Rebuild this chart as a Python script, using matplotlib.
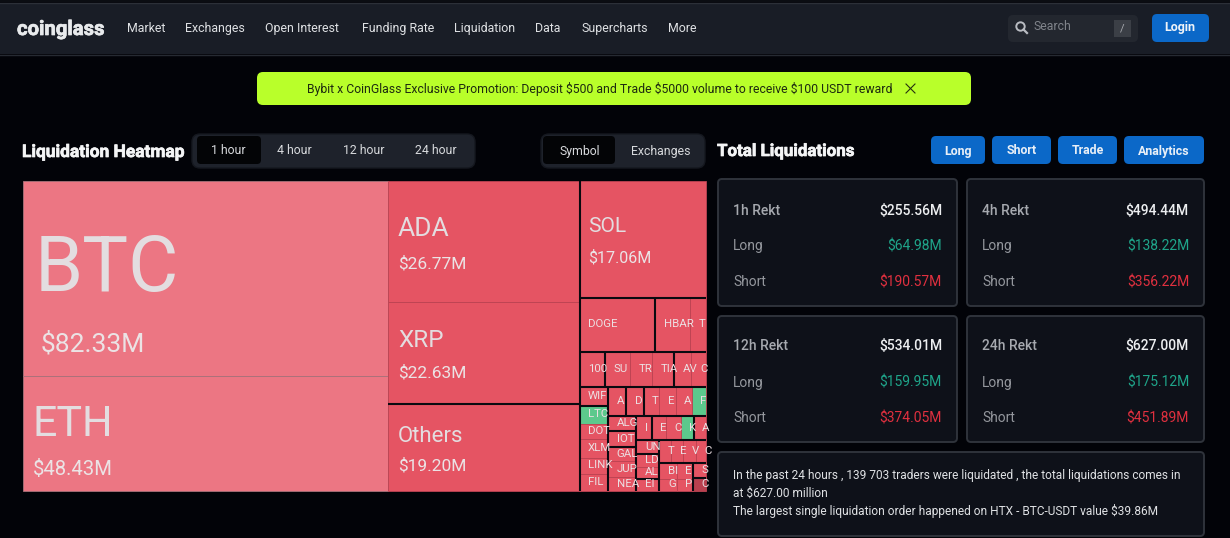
import matplotlib
matplotlib.use('Agg')
import matplotlib.pyplot as plt
import matplotlib.patheffects as pe
from matplotlib.patches import FancyBboxPatch, Rectangle, Circle

plt.rcParams['font.family'] = ['Roboto', 'DejaVu Sans']

# datos del treemap (millones USD, los chicos estimados del area)
col1_names = ['BTC', 'ETH']
col1_values = [82.33, 48.43]
col2_top_names = ['ADA', 'XRP']
col2_top_values = [26.77, 22.63]
others_value = 19.20
sol_value = 17.06
doge_names = ['DOGE', 'HBAR', 'T']
doge_values = [4.70, 2.15, 1.00]
pepe_value = 1.07
sui_names = ['SU', 'TR', 'TIA']
sui_values = [1.03, 0.90, 0.90]
avax_names = ['AV', 'C']
avax_values = [0.73, 0.60]
left_names = ['WIF', 'LTC', 'DOT', 'XLM', 'LINK', 'FIL']
left_values = [0.60, 0.60, 0.50, 0.63, 0.54, 0.57]
mid_names = ['A', 'D', 'T', 'E', 'A', 'F']
mid_values = [0.60, 0.57, 0.52, 0.54, 0.54, 0.47]
alg_names = ['ALG', 'IOT', 'GAL', 'JUP', 'NEA']
alg_values = [0.48, 0.52, 0.45, 0.52, 0.45]
icp_names = ['I', 'E', 'C', 'K', 'A']
icp_values = [0.43, 0.40, 0.40, 0.37, 0.34]
uni_names = ['UN', 'LD', 'AL', 'EI']
uni_values = [0.37, 0.34, 0.32, 0.32]
tao_names = ['T', 'E', 'V', 'C']
tao_values = [0.31, 0.31, 0.34, 0.26]
bi_names = ['BI', 'E']
bi_values = [0.32, 0.30]
grt_names = ['G', 'P']
grt_values = [0.24, 0.23]
stx_names = ['S', 'C']
stx_values = [0.22, 0.19]

light_names = ['BTC', 'ETH']
green_names = ['LTC', 'K', 'F']
big_values = {'BTC': '$82.33M', 'ETH': '$48.43M', 'ADA': '$26.77M', 'XRP': '$22.63M',
              'Others': '$19.20M', 'SOL': '$17.06M'}

# textos de la interfaz
nav_labels = ['Market', 'Exchanges', 'Open Interest', 'Funding Rate', 'Liquidation', 'Data', 'Supercharts', 'More']
tab_labels = ['1 hour', '4 hour', '12 hour', '24 hour']
view_labels = ['Symbol', 'Exchanges']
action_labels = ['Long', 'Short', 'Trade', 'Analytics']
card_titles = ['1h Rekt', '4h Rekt', '12h Rekt', '24h Rekt']
card_totals = ['$255.56M', '$494.44M', '$534.01M', '$627.00M']
card_longs = ['$64.98M', '$138.22M', '$159.95M', '$175.12M']
card_shorts = ['$190.57M', '$356.22M', '$374.05M', '$451.89M']
summary_lines = ['In the past 24 hours , 139 703 traders were liquidated , the total liquidations comes in',
                 'at $627.00 million',
                 'The largest single liquidation order happened on HTX - BTC-USDT value $39.86M']
banner_text = 'Bybit x CoinGlass Exclusive Promotion: Deposit $500 and Trade $5000 volume to receive $100 USDT reward'

# estilo de etiquetas grandes: tam nombre, tam valor, dx, dy nombre, dx, dy valor
big_style = {'BTC': (55.5, 19, 12, 80, 18, 161), 'ETH': (31, 14.6, 10, 44, 10, 91),
             'ADA': (19, 12.5, 10, 46, 10, 81), 'XRP': (17.5, 12.5, 10, 36, 10, 69),
             'Others': (16, 12.5, 10, 30, 10, 60), 'SOL': (15, 11.5, 9, 44, 9, 75)}


def leaf(name, value, shade=None):
    return {'name': name, 'value': value, 'shade': shade}


def row(direction, names, values):
    # celdas con linea fina entre ellas
    return {'dir': direction, 'kids': [leaf(n, v) for n, v in zip(names, values)], 'sep': False}


def group(direction, *kids, sep=True):
    # hijos separados con linea negra
    return {'dir': direction, 'kids': list(kids), 'sep': sep}


def total(node):
    if 'value' in node:
        return node['value']
    return sum(total(k) for k in node['kids'])


def leaf_color(node):
    if node['shade'] == 'dark':
        return '#b9404f'
    if node['name'] in green_names:
        return '#5cc98c'
    if node['name'] in light_names:
        return '#ec7683'
    return '#e55463'


def draw_leaf(node, x, y, w, h):
    name = node['name']
    edge = '#a8727a' if name in light_names else '#bd4453'
    ax.add_patch(Rectangle((x, y), w, h, facecolor=leaf_color(node), edgecolor=edge, linewidth=0.6, zorder=2))
    if name in big_style:
        s1, s2, dx1, dy1, dx2, dy2 = big_style[name]
        ax.text(x + dx1, y + dy1, name, fontsize=s1, color='#e3dde0', va='center_baseline', zorder=6)
        ax.text(x + dx2, y + dy2, big_values[name], fontsize=s2, color='#ebe3e5', va='center_baseline', zorder=6)
    else:
        ax.text(x + 8.5, y + h / 2 - 1.5, name, fontsize=8.2, color='#ecdfe2', va='center_baseline', zorder=6)


def draw_node(node, x, y, w, h):
    if 'value' in node:
        draw_leaf(node, x, y, w, h)
        return
    whole = total(node)
    pos = 0
    for n, kid in enumerate(node['kids']):
        part = total(kid) / whole
        if node['dir'] == 'h':
            draw_node(kid, x + pos * w, y, part * w, h)
            if node['sep'] and n > 0:
                ax.plot([x + pos * w] * 2, [y, y + h], color='#0a0a10', lw=1.5, zorder=4, solid_capstyle='butt')
        else:
            draw_node(kid, x, y + pos * h, w, part * h)
            if node['sep'] and n > 0:
                ax.plot([x, x + w], [y + pos * h] * 2, color='#0a0a10', lw=1.5, zorder=4, solid_capstyle='butt')
        pos += part


def box(x, y, w, h, color, edge='none', lw=0, r=5, z=1):
    ax.add_patch(FancyBboxPatch((x, y), w, h, boxstyle=f'round,pad=0,rounding_size={r}',
                                facecolor=color, edgecolor=edge, linewidth=lw, zorder=z))


def heavy(txt, lw=0.5):
    txt.set_path_effects([pe.withStroke(linewidth=lw, foreground=txt.get_color())])


fig = plt.figure(figsize=(12.3, 5.38), dpi=100, facecolor='#020308')
ax = fig.add_axes([0, 0, 1, 1])
ax.set_xlim(0, 1230)
ax.set_ylim(538, 0)
ax.axis('off')

# barra superior
ax.add_patch(Rectangle((0, 0), 1230, 2, facecolor='#0b0d12', zorder=1))
ax.add_patch(Rectangle((0, 3), 1230, 51, facecolor='#191d26', edgecolor='none', zorder=1))
ax.plot([0, 1230], [54.5, 54.5], color='#262a32', lw=1, zorder=1)
ax.plot([0, 1230], [2.5, 2.5], color='#2c3038', lw=1, zorder=1)
heavy(ax.text(17, 27.5, 'coinglass', fontsize=14.6, fontweight='bold', color='#e8eaec', va='center_baseline', zorder=3))
for x, label in zip([127, 185.5, 265, 362, 454, 535, 581.5, 668], nav_labels):
    ax.text(x, 27, label, fontsize=8.9, color='#dfe1e4', va='center_baseline', zorder=3)
box(1008, 15, 130, 27, '#23272f', r=5, z=2)
ax.add_patch(Circle((1020.5, 26.5), 4.2, fill=False, edgecolor='#b9bcc2', lw=1.4, zorder=3))
ax.plot([1023.5, 1027], [29.5, 33], color='#b9bcc2', lw=1.6, zorder=3)
ax.text(1033, 25.5, 'Search', fontsize=8.8, color='#80848b', va='center_baseline', zorder=3)
ax.add_patch(Rectangle((1114, 20), 17, 17, facecolor='#3b3f46', zorder=3))
ax.text(1122, 28, '/', fontsize=8, color='#a8abb0', va='center_baseline', ha='center', zorder=4)
box(1152, 14, 57, 28, '#0b68c8', r=5, z=2)
ax.text(1180, 25.5, 'Login', fontsize=9, fontweight='bold', color='#eef3f8', va='center_baseline', ha='center', zorder=3)

# banner
box(257, 72, 714, 33, '#b9ff2a', r=6, z=2)
ax.text(600, 88, banner_text, fontsize=8.85, color='#1d2a10', va='center_baseline', ha='center', zorder=3)
ax.plot([906, 915], [84, 93], color='#26320f', lw=0.8, zorder=3)
ax.plot([906, 915], [93, 84], color='#26320f', lw=0.8, zorder=3)

# titulos y tabs
heavy(ax.text(22, 151, 'Liquidation Heatmap', fontsize=12.5, fontweight='bold', color='#f4f5f6', va='center_baseline', zorder=3))
heavy(ax.text(717, 150, 'Total Liquidations', fontsize=12.2, fontweight='bold', color='#f4f5f6', va='center_baseline', zorder=3))
box(192, 134, 283, 34, '#1e222b', edge='#15181f', lw=1, r=8, z=1)
box(197, 136, 64, 28, '#030406', r=4, z=2)
for x, label in zip([228, 294, 363.5, 436], tab_labels):
    ax.text(x, 149.5, label, fontsize=8.8, color='#d8dadd', va='center_baseline', ha='center', zorder=3)
box(541, 134, 164, 34, '#1e222b', edge='#15181f', lw=1, r=8, z=1)
box(543, 136, 72, 28, '#030406', r=4, z=2)
for x, label in zip([580, 661], view_labels):
    ax.text(x, 149.5, label, fontsize=8.8, color='#d8dadd', va='center_baseline', ha='center', zorder=3)
for (x, w), label in zip([(931, 54), (992, 59), (1058, 59), (1124, 80)], action_labels):
    box(x, 136, w, 28, '#0b68c8', r=5, z=2)
    ax.text(x + w / 2, 149.5, label, fontsize=8.9, fontweight='bold', color='#e8eff7', va='center_baseline', ha='center', zorder=3)

# treemap
col1 = row('v', col1_names, col1_values)
col2 = group('v', row('v', col2_top_names, col2_top_values), leaf('Others', others_value))
doge_row = group('h', leaf(doge_names[0], doge_values[0]), row('h', doge_names[1:], doge_values[1:]))
top_band = group('h', leaf('100', pepe_value), row('h', sui_names, sui_values), row('h', avax_names, avax_values))
left_col = group('v', leaf(left_names[0], left_values[0]), row('v', left_names[1:], left_values[1:]))
mid_row = group('h', leaf(mid_names[0], mid_values[0]), leaf(mid_names[1], mid_values[1]),
                row('h', mid_names[2:], mid_values[2:]))
alg_col = group('v', leaf(alg_names[0], alg_values[0]), leaf(alg_names[1], alg_values[1]),
                row('v', alg_names[2:], alg_values[2:]))
icp_row = group('h', leaf(icp_names[0], icp_values[0]), row('h', icp_names[1:4], icp_values[1:4]),
                leaf(icp_names[4], icp_values[4]))
uni_col = group('v', leaf(uni_names[0], uni_values[0]), row('v', uni_names[1:3], uni_values[1:3]),
                leaf(uni_names[3], uni_values[3]))
last_left = row('h', bi_names, bi_values), row('h', grt_names, grt_values)
stx_col = group('v', leaf(stx_names[0], stx_values[0]), leaf(stx_names[1], stx_values[1], shade='dark'))
tail = group('v', row('h', tao_names, tao_values), group('h', group('v', *last_left, sep=False), stx_col))
icp_block = group('v', icp_row, group('h', uni_col, tail))
right_block = group('v', mid_row, group('h', alg_col, icp_block))
col3 = group('v', leaf('SOL', sol_value), doge_row, group('v', top_band, group('h', left_col, right_block)))
root = group('h', group('h', col1, col2, sep=False), col3)
draw_node(root, 22.5, 181, 683.5, 310)

# tarjetas
rows_y = [(209.5, 244.5, 280.5), (344.5, 381.5, 416.5)]
card_boxes = [(718, 179, 239, 127), (967, 179, 237, 127), (718, 316, 239, 126), (967, 316, 237, 126)]
for i, (x, y, w, h) in enumerate(card_boxes):
    box(x, y, w, h, '#0e1119', edge='#2f333b', lw=1.4, r=4, z=1)
    y1, y2, y3 = rows_y[i // 2]
    ax.text(x + 15, y1, card_titles[i], fontsize=10, fontweight='medium', color='#a6a9af', va='center_baseline', zorder=3)
    ax.text(x + 15, y2, 'Long', fontsize=10, color='#94979d', va='center_baseline', zorder=3)
    ax.text(x + 15, y3, 'Short', fontsize=10, color='#94979d', va='center_baseline', zorder=3)
    ax.text(x + w - 15, y1, card_totals[i], fontsize=10, fontweight='medium', color='#eceef0', va='center_baseline', ha='right', zorder=3)
    ax.text(x + w - 15, y2, card_longs[i], fontsize=10, color='#1fa58a', va='center_baseline', ha='right', zorder=3)
    ax.text(x + w - 15, y3, card_shorts[i], fontsize=10, color='#e0303f', va='center_baseline', ha='right', zorder=3)

box(718, 452, 486, 84, '#0e1119', edge='#2f333b', lw=1.4, r=4, z=1)
for y, line in zip([474.5, 491.5, 509.5], summary_lines):
    ax.text(733, y, line, fontsize=8.6, color='#dfe1e4', va='center_baseline', zorder=3)

fig.savefig('out.png', dpi=100, facecolor=fig.get_facecolor())
